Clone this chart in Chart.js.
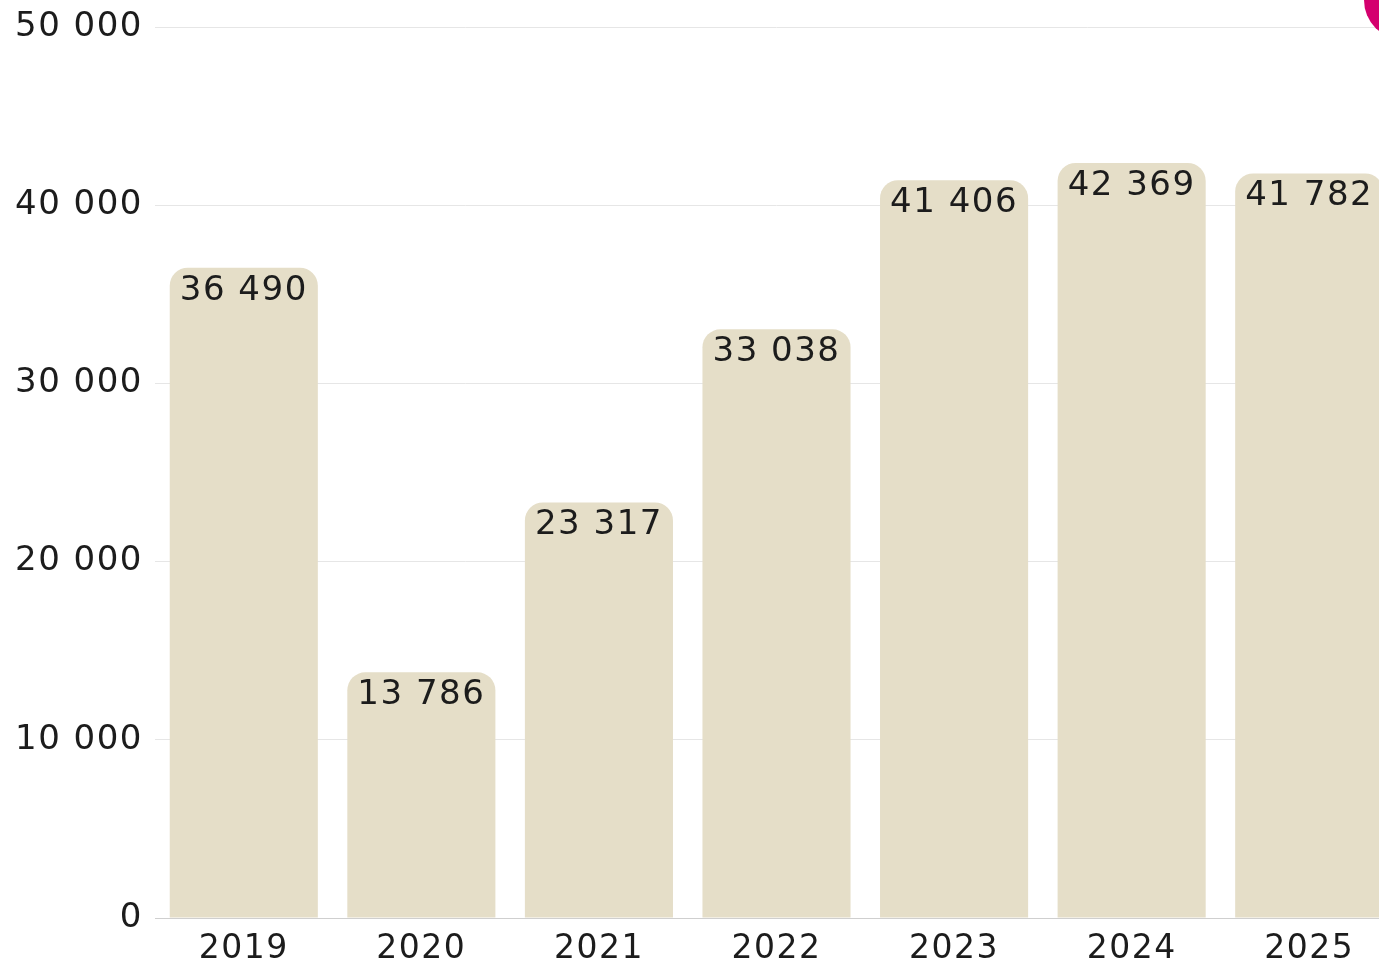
<!DOCTYPE html>
<html>
<head>
<meta charset="utf-8">
<script src="https://cdn.jsdelivr.net/npm/chart.js@4/dist/chart.umd.min.js"></script>
<style>
    html, body { margin: 0; padding: 0; background: #fff; overflow: hidden; }
    #wrap { position: relative; width: 1398px; height: 966px; }
</style>
</head>
<body>
<div id="wrap"><canvas id="myChart"></canvas></div>
<script>
const years = ['2019', '2020', '2021', '2022', '2023', '2024', '2025']
const valores = [36490, 13786, 23317, 33038, 41406, 42369, 41782]
const ticksY = [0, 10000, 20000, 30000, 40000, 50000]

const fuente = "'DejaVu Sans', sans-serif"
const formatear = (n) => String(n).replace(/\B(?=(\d{3})+(?!\d))/g, ' ')

// letra un poco mas ancha, como la del original
const espaciadoPlugin = {
    id: 'espaciado',
    beforeDraw(chart) { chart.ctx.letterSpacing = '1.5px' }
}

// etiquetas dentro de la barra + mancha rosa de la esquina
const etiquetasPlugin = {
    id: 'etiquetas',
    afterDatasetsDraw(chart) {
        const ctx = chart.ctx
        const meta = chart.getDatasetMeta(0)
        ctx.save()
        ctx.letterSpacing = '1.5px'
        ctx.font = `34px ${fuente}`
        ctx.fillStyle = '#1c1c1c'
        ctx.textAlign = 'center'
        ctx.textBaseline = 'middle'
        meta.data.forEach((bar, i) => {
            ctx.fillText(formatear(valores[i]), bar.x, bar.y + 23)
        })
        ctx.fillStyle = '#d4006e'
        ctx.beginPath()
        ctx.arc(1404, 0, 40, 0, Math.PI * 2)
        ctx.fill()
        ctx.restore()
    }
}

const ctx = document.getElementById('myChart').getContext('2d')
const myChart = new Chart(ctx, {
    type: 'bar',
    data: {
        labels: years,
        datasets: [{
            data: valores,
            backgroundColor: '#e5dec8',
            borderRadius: { topLeft: 18, topRight: 18, bottomLeft: 0, bottomRight: 0 },
            borderSkipped: 'start',
            barPercentage: 0.834,
            categoryPercentage: 1
        }]
    },
    options: {
        responsive: true,
        maintainAspectRatio: false,
        animation: false,
        layout: { padding: { top: 27, left: 0, right: 0, bottom: 0 } },
        plugins: {
            legend: { display: false },
            tooltip: { enabled: false }
        },
        scales: {
            x: {
                grid: { display: false },
                border: { display: true, color: '#cfcfcf', width: 1 },
                ticks: {
                    color: '#1c1c1c',
                    font: { family: fuente, size: 33 },
                    padding: 4
                },
                afterFit(scale) { scale.height = 48 }
            },
            y: {
                min: 0,
                max: 50000,
                afterBuildTicks(scale) { scale.ticks = ticksY.map(v => ({ value: v })) },
                grid: { color: '#e6e6e6', drawTicks: false, lineWidth: 1 },
                border: { display: false },
                ticks: {
                    color: '#1c1c1c',
                    font: { family: fuente, size: 34 },
                    padding: 12,
                    callback: (v) => formatear(v)
                },
                afterFit(scale) {
                    scale.width = 155
                    scale.paddingTop = 0
                    scale.paddingBottom = 0
                }
            }
        }
    },
    plugins: [espaciadoPlugin, etiquetasPlugin]
})
</script>
</body>
</html>
